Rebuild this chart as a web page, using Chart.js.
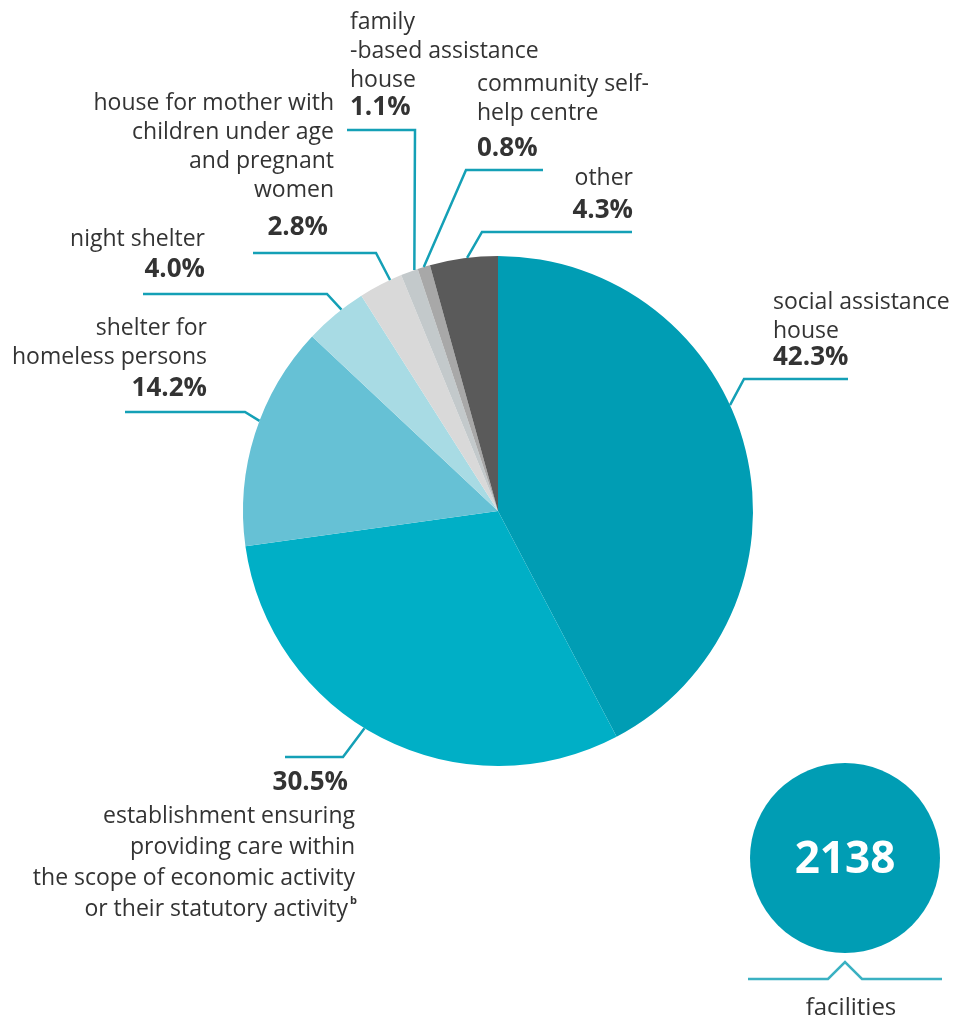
<!DOCTYPE html>
<html>
<head>
<meta charset="utf-8">
<script src="https://cdn.jsdelivr.net/npm/chart.js@4.4.1/dist/chart.umd.min.js"></script>
<style>
    body { margin: 0; background: #fff; }
    #wrap { position: relative; width: 959px; height: 1022px; }
</style>
</head>
<body>
<div id="wrap"><canvas id="facilitiesPie"></canvas></div>
<script>
const categories = [
    "social assistance house",
    "establishment ensuring providing care within the scope of economic activity or their statutory activity",
    "shelter for homeless persons",
    "night shelter",
    "house for mother with children under age and pregnant women",
    "family-based assistance house",
    "community self-help centre",
    "other"
];
const shares = [42.3, 30.5, 14.2, 4.0, 2.8, 1.1, 0.8, 4.3];
const sliceColors = ["#009db4", "#00afc6", "#66c1d5", "#a8dbe4", "#d9d9d9", "#c3c9cb", "#a8a8a8", "#5a5a5a"];
const totalFacilities = 2138;

// label layout: text lines, alignment, leader line (anchor fraction in slice, elbow, end)
const labelLayout = [
    { lines: ["social assistance", "house"], align: "left", x: 773, y: 302, pctY: 358,
      frac: 0.43, elbow: [744, 379], end: [848, 379] },
    { lines: ["establishment ensuring", "providing care within", "the scope of economic activity", "or their statutory activity"],
      pctFirst: true, align: "right", x: 355, y: 816, pctY: 783, pctX: 348, sup: "b",
      frac: 0.54, elbow: [343, 757], end: [285, 757] },
    { lines: ["shelter for", "homeless persons"], align: "right", x: 207, y: 328, pctY: 389,
      frac: 0.56, elbow: [245, 412], end: [125, 412] },
    { lines: ["night shelter"], align: "right", x: 205, y: 239, pctY: 270,
      frac: 0.62, elbow: [327, 294], end: [143, 294] },
    { lines: ["house for mother with", "children under age", "and pregnant", "women"], align: "right", x: 334, y: 103,
      pctY: 228, pctX: 328, frac: 0.73, elbow: [376, 253], end: [253, 253] },
    { lines: ["family", "-based assistance", "house"], align: "left", x: 350, y: 22, pctY: 108,
      frac: 0.8, elbow: [415, 130], end: [347, 130] },
    { lines: ["community self-", "help centre"], align: "left", x: 477, y: 84, pctY: 149,
      frac: 0.5, elbow: [466, 170], end: [543, 170] },
    { lines: ["other"], align: "right", x: 633, y: 178, pctY: 211,
      frac: 0.55, elbow: [482, 232], end: [632, 232] }
];

const lineHeight = 29;
const fontFamily = "'Open Sans', 'DejaVu Sans', sans-serif";
const textColor = "#333333";
const leaderColor = "#14a0b6";

const labelsPlugin = {
    id: "pieLabels",
    afterDraw(chart) {
        const ctx = chart.ctx;
        const arcs = chart.getDatasetMeta(0).data;
        ctx.save();
        ctx.textBaseline = "middle";
        labelLayout.forEach((lab, i) => {
            const p = arcs[i].getProps(["x", "y", "startAngle", "endAngle", "outerRadius"], true);
            const a = p.startAngle + lab.frac * (p.endAngle - p.startAngle);
            const ax = p.x + Math.cos(a) * p.outerRadius;
            const ay = p.y + Math.sin(a) * p.outerRadius;
            ctx.strokeStyle = leaderColor;
            ctx.lineWidth = 2.5;
            ctx.beginPath();
            ctx.moveTo(ax, ay);
            ctx.lineTo(lab.elbow[0], lab.elbow[1]);
            ctx.lineTo(lab.end[0], lab.end[1]);
            ctx.stroke();

            ctx.fillStyle = textColor;
            ctx.textAlign = lab.align;
            ctx.font = "23px " + fontFamily;
            const step = lab.pctFirst ? 31 : lineHeight;
            lab.lines.forEach((t, k) => {
                let tx = lab.x;
                if (lab.sup && k === lab.lines.length - 1) tx = lab.x - 7;
                ctx.fillText(t, tx, lab.y + k * step);
            });
            if (lab.sup) {
                ctx.font = "bold 11px " + fontFamily;
                ctx.textAlign = "left";
                ctx.fillText(lab.sup, lab.x - 5, lab.y + (lab.lines.length - 1) * step - 8);
                ctx.textAlign = lab.align;
            }
            ctx.font = "bold 26px " + fontFamily;
            const pct = shares[i].toFixed(1) + "%";
            ctx.fillText(pct, lab.pctX !== undefined ? lab.pctX : lab.x, lab.pctY);
        });

        // total badge
        ctx.fillStyle = "#009db4";
        ctx.beginPath();
        ctx.arc(845, 858, 95, 0, Math.PI * 2);
        ctx.fill();
        ctx.fillStyle = "#ffffff";
        ctx.textAlign = "center";
        ctx.font = "bold 44px " + fontFamily;
        ctx.fillText(String(totalFacilities), 845, 860);

        ctx.strokeStyle = "#3ab1c2";
        ctx.lineWidth = 2.5;
        ctx.beginPath();
        ctx.moveTo(748, 979);
        ctx.lineTo(828, 979);
        ctx.lineTo(845, 962);
        ctx.lineTo(862, 979);
        ctx.lineTo(942, 979);
        ctx.stroke();

        ctx.fillStyle = textColor;
        ctx.font = "24px " + fontFamily;
        ctx.fillText("facilities", 851, 1008);
        ctx.restore();
    }
};

const canvas = document.getElementById("facilitiesPie");
const chart = new Chart(canvas, {
    type: "pie",
    data: {
        labels: categories,
        datasets: [{
            data: shares,
            backgroundColor: sliceColors,
            borderWidth: 0
        }]
    },
    options: {
        responsive: true,
        maintainAspectRatio: false,
        animation: false,
        rotation: 0,
        layout: {
            padding: { left: 243, right: 206, top: 256, bottom: 256 }
        },
        plugins: {
            legend: { display: false },
            tooltip: { enabled: false }
        }
    },
    plugins: [labelsPlugin]
});
</script>
</body>
</html>
